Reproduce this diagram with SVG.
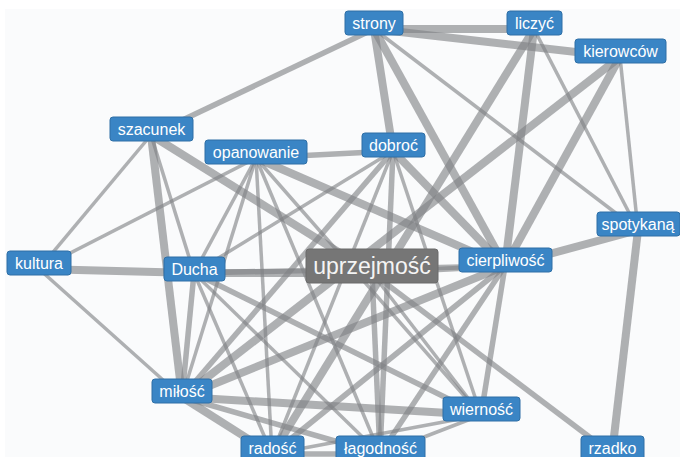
<svg xmlns="http://www.w3.org/2000/svg" width="680" height="457" viewBox="0 0 680 457">
<style>
.e{stroke:#7f8185;stroke-opacity:.62;fill:none}
.t{stroke-width:3.5}.m{stroke-width:5.5}.k{stroke-width:8}
.n rect{fill:#3a85c5;stroke:#2e6fa6;stroke-width:1}
.n text{fill:#fff;font-family:"Liberation Sans",Arial,sans-serif;font-size:16px;text-anchor:middle}
.c rect{fill:#767676;stroke:#6a6a6a;stroke-width:1}
.c text{fill:#f4f4f4;font-family:"Liberation Sans",Arial,sans-serif;font-size:23px;text-anchor:middle}
</style>
<rect width="680" height="457" fill="#ffffff"/>
<rect x="5" y="9" width="675" height="448" fill="#fafbfc"/>
<g id="edges">
<line class="e k" x1="374" y1="29" x2="534" y2="29"/>
<line class="e k" x1="374" y1="29" x2="620" y2="57"/>
<line class="e m" x1="374" y1="29" x2="151" y2="135"/>
<line class="e k" x1="374" y1="29" x2="393" y2="151"/>
<line class="e k" x1="374" y1="29" x2="505" y2="266"/>
<line class="e t" x1="374" y1="29" x2="638" y2="230"/>
<line class="e k" x1="534" y1="29" x2="505" y2="266"/>
<line class="e k" x1="534" y1="29" x2="272" y2="454"/>
<line class="e t" x1="534" y1="29" x2="638" y2="230"/>
<line class="e k" x1="620" y1="57" x2="182" y2="397"/>
<line class="e k" x1="620" y1="57" x2="505" y2="266"/>
<line class="e t" x1="620" y1="57" x2="638" y2="230"/>
<line class="e t" x1="151" y1="135" x2="39" y2="269"/>
<line class="e t" x1="151" y1="135" x2="194" y2="273"/>
<line class="e k" x1="151" y1="135" x2="182" y2="397"/>
<line class="e k" x1="151" y1="135" x2="372" y2="273"/>
<line class="e m" x1="256" y1="158" x2="393" y2="151"/>
<line class="e t" x1="256" y1="158" x2="39" y2="269"/>
<line class="e t" x1="256" y1="158" x2="194" y2="273"/>
<line class="e t" x1="256" y1="158" x2="182" y2="397"/>
<line class="e t" x1="256" y1="158" x2="272" y2="454"/>
<line class="e t" x1="256" y1="158" x2="380" y2="454"/>
<line class="e k" x1="256" y1="158" x2="505" y2="266"/>
<line class="e t" x1="256" y1="158" x2="481" y2="415"/>
<line class="e t" x1="393" y1="151" x2="194" y2="273"/>
<line class="e m" x1="393" y1="151" x2="182" y2="397"/>
<line class="e t" x1="393" y1="151" x2="272" y2="454"/>
<line class="e m" x1="393" y1="151" x2="380" y2="454"/>
<line class="e t" x1="393" y1="151" x2="481" y2="415"/>
<line class="e k" x1="393" y1="151" x2="505" y2="266"/>
<line class="e k" x1="39" y1="269" x2="194" y2="273"/>
<line class="e t" x1="39" y1="269" x2="182" y2="397"/>
<line class="e k" x1="194" y1="273" x2="372" y2="273"/>
<line class="e m" x1="194" y1="273" x2="505" y2="266"/>
<line class="e m" x1="194" y1="273" x2="182" y2="397"/>
<line class="e t" x1="194" y1="273" x2="272" y2="454"/>
<line class="e t" x1="194" y1="273" x2="380" y2="454"/>
<line class="e m" x1="194" y1="273" x2="481" y2="415"/>
<line class="e m" x1="372" y1="273" x2="505" y2="266"/>
<line class="e m" x1="372" y1="273" x2="380" y2="454"/>
<line class="e t" x1="372" y1="273" x2="481" y2="415"/>
<line class="e m" x1="372" y1="273" x2="612" y2="454"/>
<line class="e k" x1="505" y1="266" x2="638" y2="230"/>
<line class="e k" x1="505" y1="266" x2="182" y2="397"/>
<line class="e m" x1="505" y1="266" x2="272" y2="454"/>
<line class="e m" x1="505" y1="266" x2="380" y2="454"/>
<line class="e m" x1="505" y1="266" x2="481" y2="415"/>
<line class="e k" x1="182" y1="397" x2="272" y2="454"/>
<line class="e m" x1="182" y1="397" x2="380" y2="454"/>
<line class="e k" x1="182" y1="397" x2="481" y2="415"/>
<line class="e m" x1="272" y1="454" x2="380" y2="454"/>
<line class="e t" x1="272" y1="454" x2="481" y2="415"/>
<line class="e t" x1="380" y1="454" x2="481" y2="415"/>
<line class="e k" x1="638" y1="230" x2="612" y2="454"/>
</g>
<g id="strony" class="n"><rect x="345" y="11" width="58" height="24" rx="3"/><text x="374" y="28.5">strony</text></g>
<g id="liczyc" class="n"><rect x="507" y="11" width="55" height="24" rx="3"/><text x="534.5" y="28.5">liczyć</text></g>
<g id="kierowcow" class="n"><rect x="575" y="39" width="91" height="24" rx="3"/><text x="620.5" y="56.5">kierowców</text></g>
<g id="szacunek" class="n"><rect x="110" y="117" width="83" height="24" rx="3"/><text x="151.5" y="134.5">szacunek</text></g>
<g id="opanowanie" class="n"><rect x="205" y="140" width="102" height="24" rx="3"/><text x="256" y="157.5">opanowanie</text></g>
<g id="dobroc" class="n"><rect x="362" y="133" width="63" height="24" rx="3"/><text x="393.5" y="150.5">dobroć</text></g>
<g id="spotykana" class="n"><rect x="597" y="212" width="83" height="24" rx="3"/><text x="638" y="229.5">spotykaną</text></g>
<g id="kultura" class="n"><rect x="7" y="251" width="64" height="24" rx="3"/><text x="39" y="268.5">kultura</text></g>
<g id="Ducha" class="n"><rect x="164" y="257" width="61" height="24" rx="3"/><text x="194.5" y="274.5">Ducha</text></g>
<g id="uprzejmosc" class="c"><rect x="306" y="249" width="132" height="34" rx="3"/><text x="372" y="274">uprzejmość</text></g>
<g id="cierpliwosc" class="n"><rect x="459" y="248" width="93" height="24" rx="3"/><text x="505.5" y="265.5">cierpliwość</text></g>
<g id="milosc" class="n"><rect x="152" y="379" width="60" height="24" rx="3"/><text x="182" y="396.5">miłość</text></g>
<g id="wiernosc" class="n"><rect x="443" y="397" width="77" height="24" rx="3"/><text x="481.5" y="414.5">wierność</text></g>
<g id="radosc" class="n"><rect x="241" y="436" width="63" height="24" rx="3"/><text x="272.5" y="453.5">radość</text></g>
<g id="lagodnosc" class="n"><rect x="336" y="436" width="89" height="24" rx="3"/><text x="380.5" y="453.5">łagodność</text></g>
<g id="rzadko" class="n"><rect x="581" y="436" width="63" height="24" rx="3"/><text x="612.5" y="453.5">rzadko</text></g>
</svg>
